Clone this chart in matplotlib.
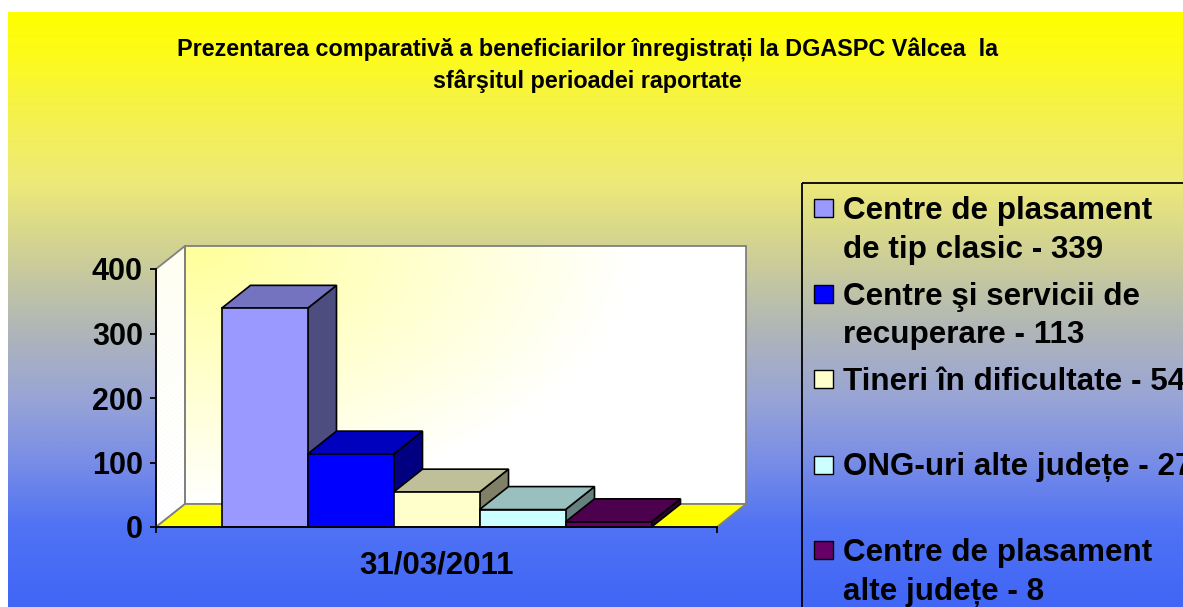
import numpy as np
import matplotlib
matplotlib.use("Agg")
import matplotlib.pyplot as plt
from matplotlib.colors import LinearSegmentedColormap, to_rgb
from matplotlib.patches import Polygon, Rectangle

plt.rcParams['font.family'] = ['Liberation Sans', 'DejaVu Sans']
plt.rcParams['font.weight'] = 'bold'

# datele graficului
titlu = "Prezentarea comparativă a beneficiarilor înregistrați la DGASPC Vâlcea  la\nsfârşitul perioadei raportate"
categorie = "31/03/2011"
servicii = ["Centre de plasament\nde tip clasic",
            "Centre şi servicii de\nrecuperare",
            "Tineri în dificultate",
            "ONG-uri alte județe",
            "Centre de plasament\nalte județe"]
beneficiari = [339, 113, 54, 27, 8]
culori = ["#9999FF", "#0000FF", "#FFFFCC", "#CCFFFF", "#660066"]
valori_ax = [0, 100, 200, 300, 400]

W, H = 1183, 607
fig = plt.figure(figsize=(W / 100, H / 100), dpi=100, facecolor="white")

# fundal cu degrade galben -> albastru (coordonate in pixeli)
bg = fig.add_axes([0, 0, 1, 1])
bg.axis("off")
stops = [(12, "#FFFF00"), (60, "#FCFA20"), (100, "#F6F345"), (180, "#EEEA78"),
         (260, "#CCCE98"), (330, "#B0B6B8"), (400, "#98A4D6"), (460, "#7A8EE6"),
         (530, "#4F72F4"), (607, "#4166F6")]
cmap = LinearSegmentedColormap.from_list("fundal", [((y - 12) / (H - 12), c) for y, c in stops])
grad = np.linspace(0, 1, 400).reshape(-1, 1)
bg.imshow(grad, cmap=cmap, aspect="auto", extent=(8, W, H, 12), interpolation="bilinear")
bg.set_xlim(0, W)
bg.set_ylim(H, 0)

# titlul
for j, rand in enumerate(titlu.split("\n")):
    bg.text(587.5, 56.5 + 31.5 * j, rand, fontsize=16.8, fontweight="bold",
            ha="center", va="baseline")

# zona graficului (planul din fata)
x0p, x1p, y0p, y4p = 156, 717, 527, 269
ax = fig.add_axes([x0p / W, 1 - y0p / H, (x1p - x0p) / W, (y0p - y4p) / H])
ax.set_facecolor("none")
ax.set_autoscale_on(False)

n = len(beneficiari)
xpos = np.arange(n)
lat = 1.0
xmin, xmax = 2 - 280.5 / 86, 2 + 280.5 / 86
ymax = valori_ax[-1]
ddx = 29 * (xmax - xmin) / (x1p - x0p)
ddy = 23 * ymax / (y0p - y4p)
gri = "#808080"

# peretele din spate
u, w = np.meshgrid(np.linspace(0, 1, 300), np.linspace(0, 1, 150))
a = np.clip(1 - np.sqrt((u / 0.8) ** 2 + w ** 2), 0, 1)[..., None]
img = np.ones(3) * (1 - a) + np.array(to_rgb("#FFFF99")) * a
ax.imshow(img, extent=(xmin + ddx, xmax + ddx, ddy, ymax + ddy), aspect="auto",
          origin="upper", clip_on=False, zorder=0.2, interpolation="bilinear")
ax.add_patch(Rectangle((xmin + ddx, ddy), xmax - xmin, ymax, fill=False, ec=gri,
                       lw=1.3, clip_on=False, zorder=0.4))

# peretele lateral
ns = 60
for k in range(ns):
    ya, yb = ymax * k / ns, ymax * (k + 1) / ns
    t = (k / ns) ** 1.5
    col = np.ones(3) * (1 - 0.12 * t) + np.array(to_rgb("#FFFF99")) * 0.12 * t
    ax.add_patch(Polygon([(xmin, ya), (xmin, yb), (xmin + ddx, yb + ddy), (xmin + ddx, ya + ddy)],
                         fc=col, ec=col, lw=0.5, clip_on=False, zorder=0.2))
ax.add_patch(Polygon([(xmin, 0), (xmin, ymax), (xmin + ddx, ymax + ddy), (xmin + ddx, ddy)],
                     fill=False, ec=gri, lw=1.3, clip_on=False, zorder=0.4))

# podeaua
ax.add_patch(Polygon([(xmin, 0), (xmax, 0), (xmax + ddx, ddy), (xmin + ddx, ddy)],
                     fc="#FFFF00", ec=gri, lw=1.3, clip_on=False, zorder=0.5))

# coloanele 3D
for i, (v, c) in enumerate(zip(beneficiari, culori)):
    xa, xb = xpos[i] - lat / 2, xpos[i] + lat / 2
    rgb = np.array(to_rgb(c))
    z = 3 + i * 0.1
    ax.add_patch(Polygon([(xb, 0), (xb + ddx, ddy), (xb + ddx, v + ddy), (xb, v)],
                         fc=rgb * 0.5, ec="black", lw=1.2, clip_on=False, zorder=z))
    ax.add_patch(Polygon([(xa, v), (xb, v), (xb + ddx, v + ddy), (xa + ddx, v + ddy)],
                         fc=rgb * 0.75, ec="black", lw=1.2, clip_on=False, zorder=z + 0.01))
    ax.bar(xpos[i], v, width=lat, color=c, edgecolor="black", lw=1.2,
           clip_on=False, zorder=z + 0.02)

# axe
for s in ["top", "right"]:
    ax.spines[s].set_visible(False)
for s in ["left", "bottom"]:
    ax.spines[s].set_color("black")
    ax.spines[s].set_linewidth(1.3)
    ax.spines[s].set_zorder(5)
ax.set_yticks(valori_ax)
ax.set_yticklabels([str(v) for v in valori_ax], fontsize=22, fontweight="bold")
ax.tick_params(axis="y", direction="out", length=4.5, width=1.3, pad=5)
ax.set_xticks([2])
ax.set_xticklabels([categorie], fontsize=22.5, fontweight="bold")
ax.set_xticks([xmin, xmax], minor=True)
ax.tick_params(axis="x", which="major", length=0, pad=17)
ax.tick_params(axis="x", which="minor", direction="out", length=4.5, width=1.3)
ax.set_xlim(xmin, xmax)
ax.set_ylim(0, ymax)

# legenda (desenata manual, taiata la marginea imaginii)
bg.add_patch(Rectangle((802, 183), 600, 600, fill=False, ec="black", lw=1.3, zorder=3))
for i, (s, v, c) in enumerate(zip(servicii, beneficiari, culori)):
    yc = 208 + 85.5 * i
    bg.add_patch(Rectangle((814, yc - 9), 19, 18, fc=c, ec="black", lw=1.0, zorder=3))
    eticheta = f"{s} - {v}"
    for j, rand in enumerate(eticheta.split("\n")):
        bg.text(843, yc + 11 + 39 * j, rand, fontsize=22.6, fontweight="bold",
                ha="left", va="baseline", zorder=3)

fig.savefig("out.png", dpi=100, facecolor=fig.get_facecolor())
